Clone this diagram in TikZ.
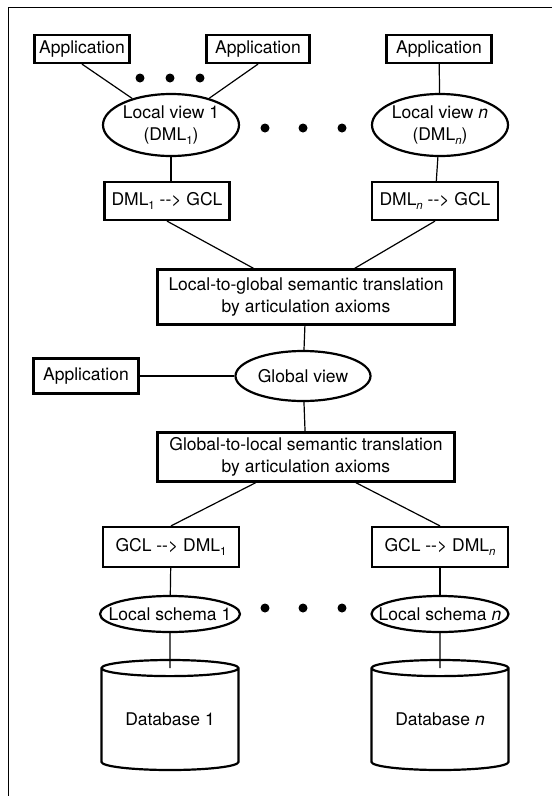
\documentclass[tikz,border=0pt]{standalone}
\usepackage{fontspec}
\setmainfont{TeX Gyre Heros}
\usetikzlibrary{shapes.geometric,calc}
\newcommand{\nowrap}[1]{\makebox[0pt]{#1}}
\newcommand{\lowsub}[1]{\raisebox{-4pt}{\fontsize{11.5}{12}\selectfont #1}}

\begin{document}
\begin{tikzpicture}[x=1pt,y=-1pt,
	font=\fontsize{17.5}{22}\selectfont,
	box/.style={draw,line width=2.2pt,inner sep=0pt,align=center,minimum height=28pt},
	oval/.style={draw,ellipse,line width=2.2pt,inner sep=0pt,align=center},
	db/.style={draw,cylinder,shape border rotate=90,aspect=0.18,line width=2.2pt,
		minimum width=137pt,minimum height=110pt,inner sep=0pt,anchor=shape center},
	link/.style={line width=1.2pt}]
	\useasboundingbox (0,0) rectangle (555,796);
	% frame
	\draw[line width=.8pt] (8,796) -- (8,7) -- (552,7);
	% applications and local views
	\node[box,minimum width=95pt] (app1) at (82,49) {Application};
	\node[box,minimum width=103pt] (app2) at (258,49) {Application};
	\node[box,minimum width=105pt] (app3) at (439,49) {Application};
	\node[oval,minimum width=136pt,minimum height=62pt] (lv1) at (171,125) {Local view 1\\(DML\lowsub{1})};
	\node[oval,minimum width=136pt,minimum height=62pt] (lvn) at (440,125) {Local view \textit{n}\\(DML\lowsub{\textit{n}})};
	\node[box,minimum width=125pt,minimum height=38pt] (dml1) at (167,201) {DML\lowsub{1} -{}-> GCL};
	\node[box,minimum width=126pt,minimum height=38pt] (dmln) at (435,201) {DML\lowsub{\textit{n}} -{}-> GCL};
	% global level
	\node[box,minimum width=297pt,minimum height=55pt] (l2g) at (306,297) {Local-to-global semantic translation\\by articulation axioms};
	\node[oval,minimum width=135pt,minimum height=50pt] (gv) at (303,376) {Global view};
	\node[box,minimum width=105pt,minimum height=35pt] (appg) at (86,376) {Application};
	\node[box,minimum width=297pt,minimum height=49pt] (g2l) at (306,457) {Global-to-local semantic translation\\by articulation axioms};
	% local schemas and databases
	\node[box,minimum width=136pt,minimum height=40pt] (gcl1) at (171,547) {GCL -{}-> DML\lowsub{1}};
	\node[box,minimum width=136pt,minimum height=40pt] (gcln) at (440,547) {GCL -{}-> DML\lowsub{\textit{n}}};
	\node[oval,minimum width=140pt,minimum height=36pt] (ls1) at (170,614) {\nowrap{Local schema 1}};
	\node[oval,minimum width=137pt,minimum height=36pt] (lsn) at (440,614) {\nowrap{Local schema \textit{n}}};
	\node[db] (db1) at (170,715) {Database 1};
	\node[db] (dbn) at (440,715) {Database \textit{n}};

	\foreach \x in {140,170,200} \fill (\x,78) circle (4.5);
	\foreach \x in {265,303,342} {
		\fill (\x,128) circle (4.5);
		\fill (\x,608) circle (4.5);
	}

	\draw[link] (app1.south) -- (lv1);
	\draw[link] (app2.south) -- (lv1);
	\draw[link] (app3) -- (lvn);
	\draw[link] (lv1.south) -- (lv1.south |- dml1.north);
	\draw[link] (lvn) -- (dmln);
	\draw[link] (dml1.south) -- (l2g);
	\draw[link] (dmln.south) -- (l2g);
	\draw[link] (l2g) -- (gv);
	\draw[link] (appg) -- (gv);
	\draw[link] (gv) -- (g2l);
	\draw[link] (g2l) -- (gcl1.north);
	\draw[link] (g2l) -- (gcln.north);
	\draw[link] (gcl1) -- (ls1);
	\draw[link] (gcln) -- (lsn);
	\draw[link] (ls1) -- ($(db1.before top)!.5!(db1.after top)$);
	\draw[link] (lsn) -- ($(dbn.before top)!.5!(dbn.after top)$);
\end{tikzpicture}
\end{document}
